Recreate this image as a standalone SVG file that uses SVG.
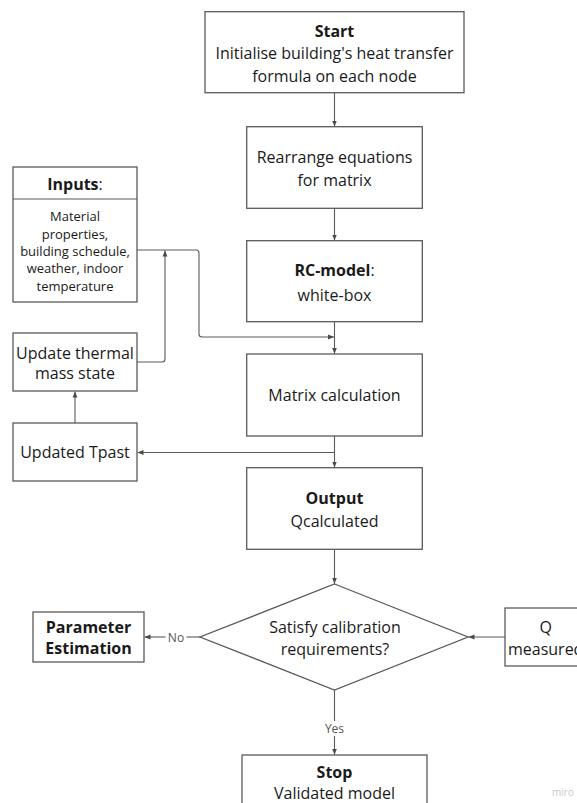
<svg xmlns="http://www.w3.org/2000/svg" width="577" height="803" viewBox="0 0 577 803">
  <defs>
    <style>
      .box { fill: #ffffff; stroke: #5a5a5a; stroke-width: 1.3; }
      .t { font-family: "Open Sans", "Noto Sans", "DejaVu Sans", sans-serif; font-size: 16px; fill: #1a1a1a; text-anchor: middle; }
      .b { font-weight: 700; }
      .small { font-size: 13px; }
      .lbl { font-family: "Open Sans", "Noto Sans", "DejaVu Sans", sans-serif; font-size: 12px; fill: #555555; text-anchor: middle; }
      .edge { fill: none; stroke: #5a5a5a; stroke-width: 1.1; marker-end: url(#arrow); }
      .plain { fill: none; stroke: #5a5a5a; stroke-width: 1.1; }
      .wm { font-family: "Open Sans", "DejaVu Sans", sans-serif; font-size: 10px; fill: #c8c8c8; text-anchor: middle; }
    </style>
    <marker id="arrow" viewBox="0 0 6 6" refX="6" refY="3" markerWidth="6" markerHeight="6" markerUnits="userSpaceOnUse" orient="auto">
      <path d="M0,0.6 L6,3 L0,5.4 Z" fill="#4a4a4a"/>
    </marker>
  </defs>

  <rect width="577" height="803" fill="#ffffff"/>

  <!-- connectors -->
  <g id="connectors">
    <path class="edge" d="M334.5,92.7 V126.5"/>
    <path class="edge" d="M334.5,208.3 V240.5"/>
    <path class="edge" d="M334.5,321.7 V353.8"/>
    <path class="edge" d="M334.5,436 V467.5"/>
    <path class="edge" d="M334.5,549.3 V583.8"/>
    <!-- inputs feed into the model -->
    <path class="edge" d="M137,250 H196 Q199,250 199,253 V334 Q199,337 202,337 H334"/>
    <!-- thermal mass state back to inputs line -->
    <path class="edge" d="M137,362 H162 Q165,362 165,359 V250.5"/>
    <!-- branch to updated Tpast -->
    <path class="edge" d="M334.5,452.5 H137.5"/>
    <path class="edge" d="M75,423 V391.5"/>
    <!-- measured Q into decision -->
    <path class="edge" d="M505,637 H468.5"/>
    <!-- No branch -->
    <path class="plain" d="M200,637 H186.5"/>
    <path class="edge" d="M165.5,637 H144.5"/>
    <text class="lbl" x="176" y="641.5">No</text>
    <!-- Yes branch -->
    <path class="plain" d="M334.5,690 V721"/>
    <path class="edge" d="M334.5,736 V754.8"/>
    <text class="lbl" x="334.5" y="732.5">Yes</text>
  </g>

  <g id="start">
    <rect class="box" x="205" y="11.7" width="259" height="81"/>
    <text class="t b" x="334.5" y="36.5">Start</text>
    <text class="t" x="334.5" y="59">Initialise building's heat transfer</text>
    <text class="t" x="334.5" y="81.5">formula on each node</text>
  </g>

  <g id="rearrange">
    <rect class="box" x="246.7" y="126.7" width="175.6" height="81.6"/>
    <text class="t" x="334.5" y="163">Rearrange equations</text>
    <text class="t" x="334.5" y="185.5">for matrix</text>
  </g>

  <g id="inputs">
    <rect class="box" x="13" y="167" width="124" height="135"/>
    <line class="plain" x1="13" y1="199" x2="137" y2="199" stroke-width="1.3"/>
    <text class="t" x="75" y="190"><tspan class="b">Inputs</tspan>:</text>
    <text class="t small" x="75" y="221">Material</text>
    <text class="t small" x="75" y="238.5">properties,</text>
    <text class="t small" x="75" y="256">building schedule,</text>
    <text class="t small" x="75" y="273">weather, indoor</text>
    <text class="t small" x="75" y="290.5">temperature</text>
  </g>

  <g id="rc-model">
    <rect class="box" x="246.7" y="240.7" width="175.6" height="81"/>
    <text class="t" x="334.5" y="276"><tspan class="b">RC-model</tspan>:</text>
    <text class="t" x="334.5" y="300.5">white-box</text>
  </g>

  <g id="update-thermal">
    <rect class="box" x="13" y="333" width="124" height="58"/>
    <text class="t" x="75" y="359">Update thermal</text>
    <text class="t" x="75" y="379">mass state</text>
  </g>

  <g id="matrix-calc">
    <rect class="box" x="246.7" y="354" width="175.6" height="82"/>
    <text class="t" x="334.5" y="401">Matrix calculation</text>
  </g>

  <g id="updated-tpast">
    <rect class="box" x="13" y="423" width="124" height="58"/>
    <text class="t" x="75" y="458">Updated Tpast</text>
  </g>

  <g id="output">
    <rect class="box" x="246.7" y="467.7" width="175.6" height="81.6"/>
    <text class="t b" x="334.5" y="504">Output</text>
    <text class="t" x="334.5" y="527">Qcalculated</text>
  </g>

  <g id="decision">
    <polygon class="box" points="334.5,584 468,637 334.5,690 200,637"/>
    <text class="t" x="335" y="633">Satisfy calibration</text>
    <text class="t" x="335" y="655">requirements?</text>
  </g>

  <g id="parameter-estimation">
    <rect class="box" x="33" y="612" width="111" height="50"/>
    <text class="t b" x="88.5" y="633">Parameter</text>
    <text class="t b" x="88.5" y="654">Estimation</text>
  </g>

  <g id="q-measured">
    <rect class="box" x="505" y="608" width="81" height="58"/>
    <text class="t" x="545.7" y="633">Q</text>
    <text class="t" x="545.7" y="655">measured</text>
  </g>

  <g id="stop">
    <rect class="box" x="242" y="755" width="185" height="60"/>
    <text class="t b" x="334.5" y="777.5">Stop</text>
    <text class="t" x="334.5" y="799">Validated model</text>
  </g>

  <text class="wm" x="563" y="796">miro</text>
</svg>
